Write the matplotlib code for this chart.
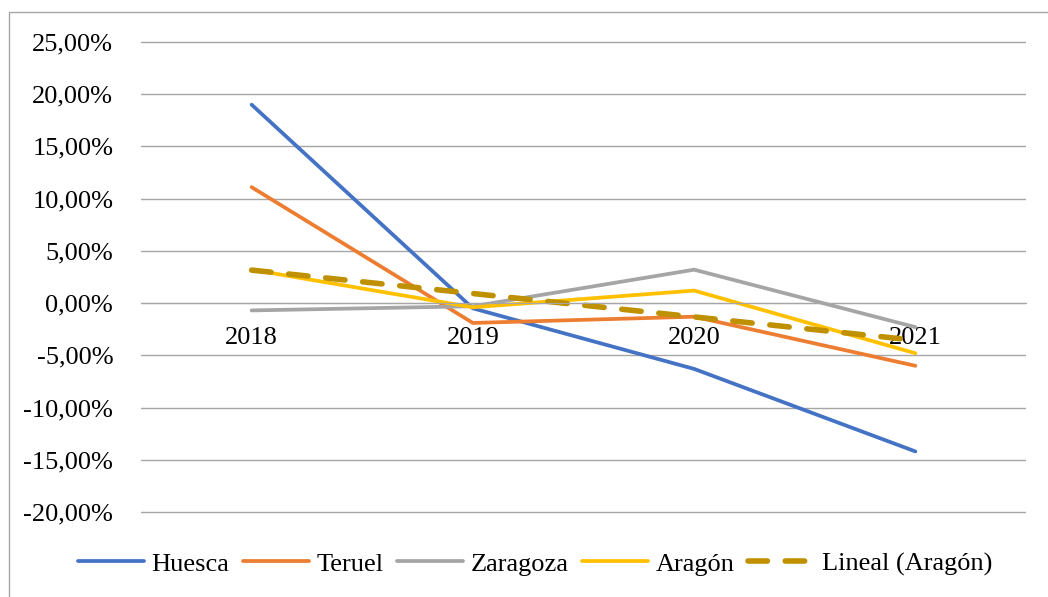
import matplotlib.pyplot as plt
from matplotlib.ticker import FuncFormatter
from matplotlib.patches import Rectangle
import numpy as np

plt.rcParams.update(
    {
        "font.family": "serif",
        "font.serif": ["Liberation Serif", "DejaVu Serif"],
        "font.size": 19,
    }
)

# data (percent)
years = ["2018", "2019", "2020", "2021"]
huesca = [19.0, -0.5, -6.3, -14.2]
teruel = [11.1, -1.9, -1.3, -6.0]
zaragoza = [-0.7, -0.3, 3.2, -2.3]
aragon = [3.2, -0.4, 1.2, -4.8]

series = [
    ("Huesca", huesca, "#4472C4"),
    ("Teruel", teruel, "#ED7D31"),
    ("Zaragoza", zaragoza, "#A5A5A5"),
    ("Aragón", aragon, "#FFC000"),
]

x = np.arange(len(years))

fig = plt.figure(figsize=(10.48, 5.97), dpi=100)
# 25% at y=42px, -20% at y=512px; axes padded by half a percent each side
px_per_pct = (512 - 42) / 45
top_px = 42 - 0.5 * px_per_pct
bot_px = 512 + 0.5 * px_per_pct
ax = fig.add_axes([141 / 1048, 1 - bot_px / 597, (1026 - 141) / 1048, (bot_px - top_px) / 597])

# chart border
fig.patches.append(
    Rectangle(
        (9 / 1048, -0.1), 1.2, 1 - 12 / 597 + 0.1,
        transform=fig.transFigure, fill=False, edgecolor="#A6A6A6", linewidth=1,
    )
)

for name, vals, color in series:
    ax.plot(x, vals, color=color, linewidth=2.7, label=name, solid_capstyle="round")

# linear trend of Aragón
coef = np.polyfit(x, aragon, 1)
trend = np.polyval(coef, x)
ax.plot(
    x, trend, color="#BF9000", linewidth=4.0, linestyle=(0, (3.5, 3.2)),
    dash_capstyle="round", label="Lineal (Aragón)",
)

ax.set_xlim(-0.5, 3.5)
ax.set_ylim(-20.5, 25.5)
ax.set_yticks(np.arange(-20, 26, 5))
ax.yaxis.set_major_formatter(FuncFormatter(lambda v, p: f"{v:.2f}%".replace(".", ",")))
ax.grid(axis="y", color="#A6A6A6", linewidth=1)
ax.set_axisbelow(True)

for s in ["top", "right", "left"]:
    ax.spines[s].set_visible(False)
ax.spines["bottom"].set_position(("data", 0))
ax.spines["bottom"].set_color("#A6A6A6")

ax.set_xticks(x)
ax.set_xticklabels(years)
ax.tick_params(axis="x", length=0, pad=17)
ax.tick_params(axis="y", length=0, pad=20)

fig.legend(
    loc="center", bbox_to_anchor=(535 / 1048, 1 - 564 / 597), ncol=5, frameon=False,
    handlelength=2.5, handletextpad=0.3, columnspacing=0.5, fontsize=19,
)

fig.savefig("out.png", dpi=100)
